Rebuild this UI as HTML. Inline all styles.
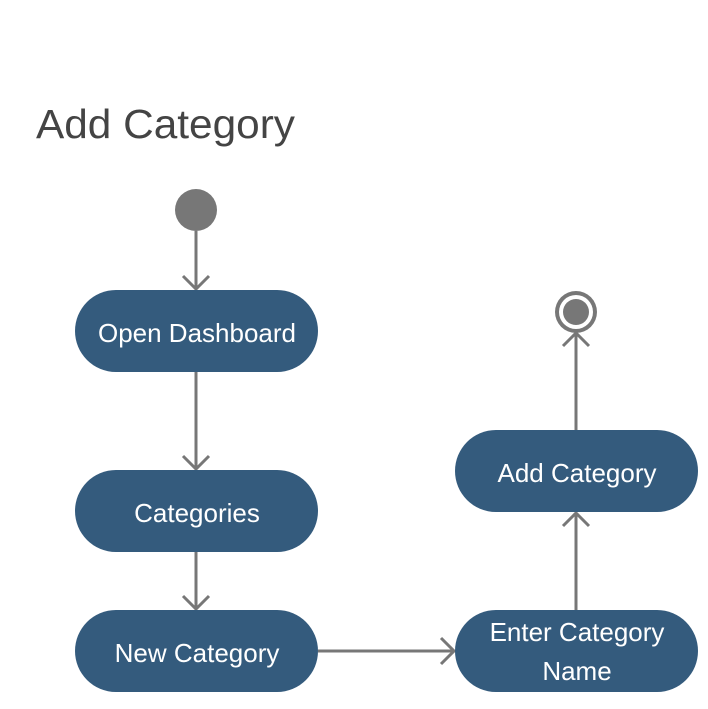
<!DOCTYPE html>
<html><head><style>
body{margin:0;background:#fff;}
svg{display:block}
</style></head><body>
<svg width="708" height="709" xmlns="http://www.w3.org/2000/svg" font-family="Liberation Sans, sans-serif">
<text x="36" y="138" font-size="41" fill="#444" textLength="259" lengthAdjust="spacingAndGlyphs">Add Category</text>
<circle cx="196" cy="210" r="21" fill="#777"/>
<circle cx="576" cy="312" r="21" fill="#777"/>
<circle cx="576" cy="312" r="17" fill="#fff"/>
<circle cx="576" cy="312" r="13" fill="#777"/>
<g stroke="#777" stroke-width="3" fill="none">
<line x1="196" y1="231" x2="196" y2="289"/><polyline points="183,276 196,289 209,276"/>
<line x1="196" y1="372" x2="196" y2="469"/><polyline points="183,456 196,469 209,456"/>
<line x1="196" y1="552" x2="196" y2="609"/><polyline points="183,596 196,609 209,596"/>
<line x1="318" y1="651" x2="454" y2="651"/><polyline points="441,638 454,651 441,664"/>
<line x1="576" y1="610" x2="576" y2="513"/><polyline points="563,526 576,513 589,526"/>
<line x1="576" y1="430" x2="576" y2="333"/><polyline points="563,346 576,333 589,346"/>
</g>
<g fill="#345b7d">
<rect x="75" y="290" width="243" height="82" rx="41"/>
<rect x="75" y="470" width="243" height="82" rx="41"/>
<rect x="75" y="610" width="243" height="82" rx="41"/>
<rect x="455" y="430" width="243" height="82" rx="41"/>
<rect x="455" y="610" width="243" height="82" rx="41"/>
</g>
<g fill="#fff" font-size="26" text-anchor="middle">
<text x="197" y="342">Open Dashboard</text>
<text x="197" y="522">Categories</text>
<text x="197" y="662">New Category</text>
<text x="577" y="482">Add Category</text>
<text x="577" y="641">Enter Category</text>
<text x="577" y="680">Name</text>
</g>
</svg>
</body></html>
